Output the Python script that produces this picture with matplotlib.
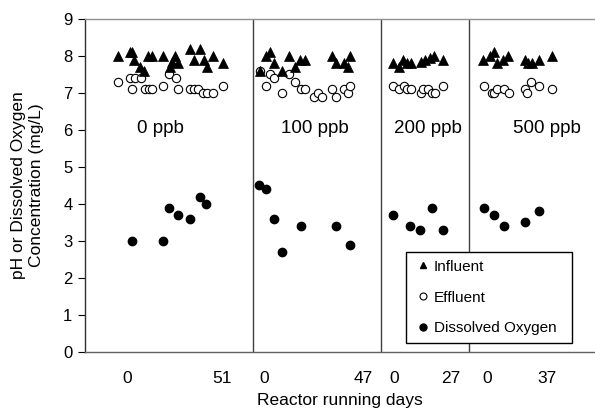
import matplotlib
matplotlib.use("Agg")
import matplotlib.pyplot as plt
from matplotlib.lines import Line2D

plt.rcParams['font.family'] = ['Liberation Sans', 'DejaVu Sans']

# x positions are chart positions (arbitrary scale, 0..509)
influent_x = [33, 45, 47, 49, 55, 59, 63, 67, 78, 85, 87, 90, 93, 105, 109, 115, 119, 122, 128, 138,
              175, 181, 185, 189, 197, 204, 210, 215, 220, 247, 251, 259, 263, 265,
              308, 314, 318, 322, 326, 336, 340, 345, 349, 358,
              398, 405, 409, 412, 418, 423, 440, 443, 447, 454, 467]
influent_y = [8.0, 8.1, 8.1, 7.9, 7.7, 7.6, 8.0, 8.0, 8.0, 7.7, 7.85, 8.0, 7.8, 8.2, 7.9, 8.2, 7.9, 7.7, 8.0, 7.8,
              7.6, 8.0, 8.1, 7.8, 7.6, 8.0, 7.7, 7.9, 7.9, 8.0, 7.8, 7.8, 7.7, 8.0,
              7.8, 7.7, 7.9, 7.8, 7.8, 7.85, 7.9, 7.95, 8.0, 7.9,
              7.9, 8.0, 8.1, 7.8, 7.9, 8.0, 7.9, 7.8, 7.8, 7.9, 8.0]

effluent_x = [33, 45, 50, 56, 47, 60, 64, 67, 78, 84, 91, 93, 105, 109, 113, 118, 122, 128, 138,
              175, 181, 185, 189, 197, 204, 210, 216, 220, 229, 233, 237, 247, 251, 259, 263, 265,
              308, 314, 319, 322, 326, 336, 338, 343, 347, 350, 358,
              399, 407, 409, 412, 419, 424, 440, 442, 446, 454, 467]
effluent_y = [7.3, 7.4, 7.4, 7.4, 7.1, 7.1, 7.1, 7.1, 7.2, 7.5, 7.4, 7.1, 7.1, 7.1, 7.1, 7.0, 7.0, 7.0, 7.2,
              7.6, 7.2, 7.5, 7.4, 7.0, 7.5, 7.3, 7.1, 7.1, 6.9, 7.0, 6.9, 7.1, 6.9, 7.1, 7.0, 7.2,
              7.2, 7.1, 7.2, 7.1, 7.1, 7.0, 7.1, 7.1, 7.0, 7.0, 7.2,
              7.2, 7.0, 7.0, 7.1, 7.1, 7.0, 7.1, 7.0, 7.3, 7.2, 7.1]

do_x = [47, 78, 84, 93, 105, 115, 121,
        174, 181, 189, 197, 216, 251, 265,
        308, 325, 335, 347, 358,
        399, 409, 419, 440, 454]
do_y = [3.0, 3.0, 3.9, 3.7, 3.6, 4.2, 4.0,
        4.5, 4.4, 3.6, 2.7, 3.4, 3.4, 2.9,
        3.7, 3.4, 3.3, 3.9, 3.3,
        3.9, 3.7, 3.4, 3.5, 3.8]

divider_x = [168, 296, 384]
tick_pos = [42, 137, 179, 278, 309, 366, 402, 462]
tick_labels = ['0', '51', '0', '47', '0', '27', '0', '37']
phase_x = [75, 230, 343, 462]
phase_labels = ['0 ppb', '100 ppb', '200 ppb', '500 ppb']

fig = plt.figure(figsize=(5.95, 4.15), dpi=100)
ax = fig.add_axes([85/595, 63/415, 509/595, 333/415])

for xv in divider_x:
    ax.axvline(xv, color='#404040', lw=1.0, zorder=1)

ax.plot(effluent_x, effluent_y, 'o', ms=6, mfc='white', mec='black', mew=0.8, ls='none', zorder=3)
ax.plot(influent_x, influent_y, '^', ms=6.5, mfc='black', mec='black', mew=0.5, ls='none', zorder=4)
ax.plot(do_x, do_y, 'o', ms=6, mfc='black', mec='black', ls='none', zorder=4)

for xv, lab in zip(phase_x, phase_labels):
    ax.text(xv, 6.05, lab, ha='center', va='center', fontsize=13.5)

ax.set_xlim(0, 509)
ax.set_ylim(0, 9)
ax.set_yticks(range(0, 10))
ax.set_xticks(tick_pos)
ax.set_xticklabels(tick_labels)
ax.tick_params(axis='x', length=0, pad=14, labelsize=12.5)
ax.tick_params(axis='y', length=5, width=0.8, pad=4, labelsize=12, direction='out')

ax.spines['right'].set_visible(False)
ax.spines['top'].set_color('#909090')
ax.spines['left'].set_color('#303030')
ax.spines['bottom'].set_color('#606060')
for s in ax.spines.values():
    s.set_linewidth(1.0)

ax.set_xlabel('Reactor running days', fontsize=12.5, labelpad=5)
ax.set_ylabel('pH or Dissolved Oxygen\nConcentration (mg/L)', fontsize=12.5, labelpad=14, linespacing=1.2)

handles = [Line2D([], [], marker='^', ls='none', color='black', ms=5),
           Line2D([], [], marker='o', ls='none', mfc='white', mec='black', mew=0.8, ms=5),
           Line2D([], [], marker='o', ls='none', color='black', ms=5)]
leg = ax.legend(handles, ['Influent', 'Effluent', 'Dissolved Oxygen'],
                loc='lower left', bbox_to_anchor=(321/509, 9/333, 166/509, 91/333),
                mode='expand', fontsize=11,
                frameon=True, fancybox=False, edgecolor='black', framealpha=1,
                handlelength=1.2, handletextpad=0.1, labelspacing=1.1,
                borderpad=0.5, borderaxespad=0)
leg.get_frame().set_linewidth(1.0)

fig.savefig('out.png', dpi=100)
